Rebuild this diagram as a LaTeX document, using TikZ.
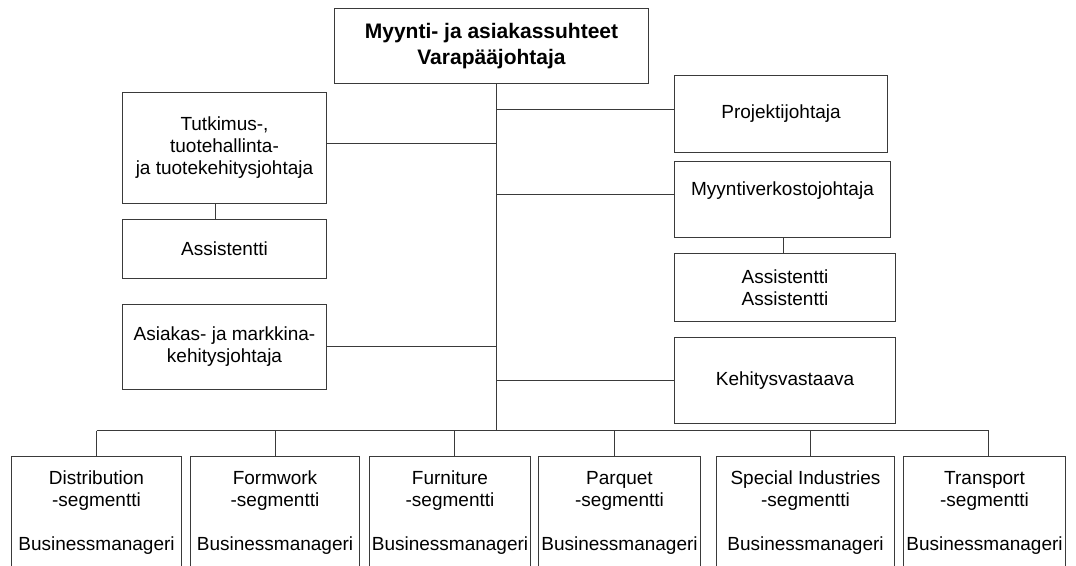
\documentclass[tikz,border=0pt]{standalone}
\usepackage{fontspec}
\setmainfont{Liberation Sans}
\definecolor{linegray}{HTML}{3A3A3A}
\tikzset{
  box/.style={draw=linegray, line width=1pt, fill=white, align=center,
    inner sep=0pt, font=\fontsize{19}{22}\selectfont},
  topbox/.style={box, font=\fontsize{21}{26}\selectfont\bfseries},
  link/.style={draw=linegray, line width=1pt},
}
\begin{document}
\begin{tikzpicture}[x=1pt,y=-1pt]
  \useasboundingbox (0,0) rectangle (1076,565);
  \clip (0,0) rectangle (1076,565);
  \fill[white] (0,0) rectangle (1076,565);

  % head of the unit
  \node[topbox, minimum width=314pt, minimum height=75pt] (head) at (491.5,46)
    {Myynti- ja asiakassuhteet\\Varapääjohtaja};

  % left column
  \node[box, minimum width=204pt, minimum height=111pt] (tutk) at (224.5,148)
    {Tutkimus-,\\tuotehallinta-\\ja tuotekehitysjohtaja};
  \node[box, minimum width=204pt, minimum height=59pt] (assL) at (224.5,249)
    {Assistentti};
  \node[box, minimum width=204pt, minimum height=85pt] (asiak) at (224.5,347)
    {Asiakas- ja markkina-\\kehitysjohtaja};

  % right column
  \node[box, minimum width=213pt, minimum height=77pt] (proj) at (781,114)
    {Projektijohtaja};
  \node[box, minimum width=216pt, minimum height=76pt] (myyv) at (782.5,199.5)
    {Myyntiverkostojohtaja\\\mbox{}};
  \node[box, minimum width=221pt, minimum height=68pt] (assR) at (785,287.5)
    {Assistentti\\Assistentti};
  \node[box, minimum width=221pt, minimum height=86pt] (keh) at (785,380.5)
    {Kehitysvastaava};

  % segment row
  \node[box, minimum width=170pt, minimum height=112pt] (dist) at (96.5,512.5)
    {Distribution\\-segmentti\\\mbox{}\\Businessmanageri};
  \node[box, minimum width=169pt, minimum height=112pt] (form) at (275,512.5)
    {Formwork\\-segmentti\\\mbox{}\\Businessmanageri};
  \node[box, minimum width=161pt, minimum height=112pt] (furn) at (450,512.5)
    {Furniture\\-segmentti\\\mbox{}\\Businessmanageri};
  \node[box, minimum width=162pt, minimum height=112pt] (parq) at (619.5,512.5)
    {Parquet\\-segmentti\\\mbox{}\\Businessmanageri};
  \node[box, minimum width=178pt, minimum height=112pt] (spec) at (805.5,512.5)
    {Special Industries\\-segmentti\\\mbox{}\\Businessmanageri};
  \node[box, minimum width=162pt, minimum height=112pt] (trans) at (984.5,512.5)
    {Transport\\-segmentti\\\mbox{}\\Businessmanageri};

  % trunk and its junctions
  \coordinate (tTop) at (496.5,83.5);
  \coordinate (tBus) at (496.5,430.5);
  \coordinate (jProj) at (496.5,109.5);
  \coordinate (jTutk) at (496.5,143.5);
  \coordinate (jMyyv) at (496.5,194.5);
  \coordinate (jAsiak) at (496.5,346.5);
  \coordinate (jKeh) at (496.5,380.5);
  \coordinate (busL) at (96.5,430.5);
  \coordinate (busR) at (988.5,430.5);

  \draw[link] (tTop) -- (tBus);
  \draw[link] (jProj) -- (jProj -| proj.west);
  \draw[link] (jTutk) -- (jTutk -| tutk.east);
  \draw[link] (jMyyv) -- (jMyyv -| myyv.west);
  \draw[link] (jAsiak) -- (jAsiak -| asiak.east);
  \draw[link] (jKeh) -- (jKeh -| keh.west);

  % assistants under their managers
  \coordinate (dTutk) at (215.5,203.5);
  \draw[link] (dTutk) -- (dTutk |- assL.north);
  \coordinate (dMyyv) at (783.5,237.5);
  \draw[link] (dMyyv) -- (dMyyv |- assR.north);

  % bus to the segments
  \draw[link] (busL) -- (busR);
  \coordinate (d1) at (96.5,430.5);
  \coordinate (d2) at (275.5,430.5);
  \coordinate (d3) at (454.5,430.5);
  \coordinate (d4) at (614.5,430.5);
  \coordinate (d5) at (810.5,430.5);
  \coordinate (d6) at (988.5,430.5);
  \draw[link] (d1) -- (d1 |- dist.north);
  \draw[link] (d2) -- (d2 |- form.north);
  \draw[link] (d3) -- (d3 |- furn.north);
  \draw[link] (d4) -- (d4 |- parq.north);
  \draw[link] (d5) -- (d5 |- spec.north);
  \draw[link] (d6) -- (d6 |- trans.north);
\end{tikzpicture}
\end{document}
